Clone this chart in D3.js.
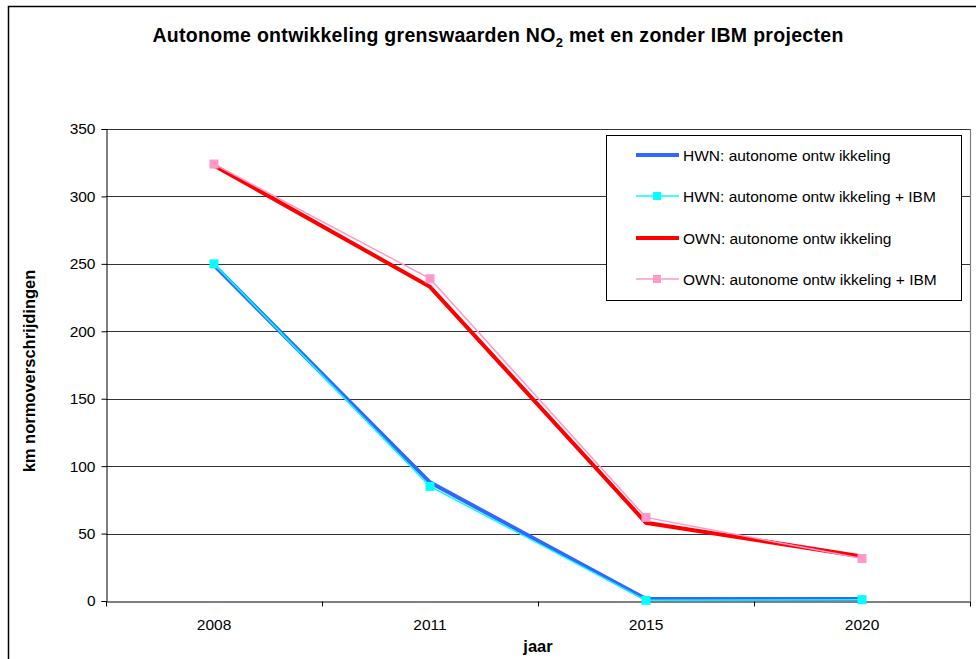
<!DOCTYPE html>
<html><head><meta charset="utf-8">
<script src="https://cdn.jsdelivr.net/npm/d3@7"></script>
<style>body{margin:0;background:#fff}svg{display:block;font-family:Arial,"Liberation Sans",sans-serif}</style>
</head><body><svg id="c" width="976" height="659"></svg>
<script>
const years = ["2008","2011","2015","2020"];
const hwn = [249, 88, 1.5, 1.5];
const hwnIbm = [250, 85, 0.5, 1];
const own = [323, 233, 58, 33];
const ownIbm = [324, 239, 62, 31.5];
const yTicks = [0,50,100,150,200,250,300,350];
const seriesNames = ["HWN: autonome ontw ikkeling","HWN: autonome ontw ikkeling + IBM","OWN: autonome ontw ikkeling","OWN: autonome ontw ikkeling + IBM"];

const series = [
  {name: seriesNames[0], values: hwn, color: "#3366ff", width: 4, marker: false},
  {name: seriesNames[1], values: hwnIbm, color: "#00ffff", width: 1.5, marker: true},
  {name: seriesNames[2], values: own, color: "#ff0000", width: 4, marker: false},
  {name: seriesNames[3], values: ownIbm, color: "#ff99cc", width: 1.5, marker: true}
];

const FF = "Arial, 'Liberation Sans', sans-serif";
const svg = d3.select("#c");
const L = 106, R = 970, T = 129, B = 601;
const x = d3.scaleBand().domain(years).range([L, R]);
const y = d3.scaleLinear().domain([0, 350]).range([B, T]);

// outer border
svg.append("rect").attr("x", 8.5).attr("y", 6.5).attr("width", 1200).attr("height", 1200)
  .attr("fill", "none").attr("stroke", "#000").attr("stroke-width", 1.5);

// title
const title = svg.append("text").attr("x", 498).attr("y", 42).attr("text-anchor", "middle")
  .attr("font-size", 19.5).attr("font-weight", "bold").attr("letter-spacing", 0.3);
title.append("tspan").text("Autonome ontwikkeling grenswaarden NO");
title.append("tspan").attr("font-size", 13).attr("dy", 5).text("2");
title.append("tspan").attr("dy", -5).text(" met en zonder IBM projecten");

// gridlines
svg.append("g").selectAll("line").data(yTicks.filter(d => d > 0)).join("line")
  .attr("x1", L).attr("x2", R).attr("y1", d => Math.round(y(d)) + 0.5).attr("y2", d => Math.round(y(d)) + 0.5)
  .attr("stroke", "#333").attr("stroke-width", 1);
// plot area right border
svg.append("line").attr("x1", R + 0.5).attr("x2", R + 0.5).attr("y1", T).attr("y2", B)
  .attr("stroke", "#808080").attr("stroke-width", 1.2);

// y axis
const ya = svg.append("g").attr("transform", `translate(${L + 0.5},0)`)
  .call(d3.axisLeft(y).tickValues(yTicks).tickSize(5).tickPadding(6));
ya.selectAll("text").attr("font-size", 15.5).attr("font-family", FF).attr("fill", "#000");
ya.selectAll("line").attr("stroke", "#000");
ya.select(".domain").attr("stroke", "#000");

// x axis
const xa = svg.append("g").attr("transform", `translate(0,${B + 0.5})`)
  .call(d3.axisBottom(x).tickSize(0).tickPadding(17));
xa.selectAll("text").attr("font-size", 15.5).attr("font-family", FF).attr("fill", "#000");
xa.select(".domain").attr("stroke", "#000");
const bounds = years.map(d => x(d)).concat([x(years[years.length - 1]) + x.bandwidth()]);
xa.selectAll(".sep").data(bounds).join("line").attr("class", "sep")
  .attr("x1", d => d + 0.5).attr("x2", d => d + 0.5).attr("y1", 0).attr("y2", 5).attr("stroke", "#000");

// axis labels
svg.append("text").attr("x", 538).attr("y", 652).attr("text-anchor", "middle")
  .attr("font-size", 16.5).attr("font-weight", "bold").text("jaar");
svg.append("text").attr("transform", "translate(35,371) rotate(-90)").attr("text-anchor", "middle")
  .attr("font-size", 16.5).attr("font-weight", "bold").text("km normoverschrijdingen");

// lines
const line = d3.line().x((d, i) => x(years[i]) + x.bandwidth() / 2).y(d => y(d));
series.forEach(s => {
  svg.append("path").datum(s.values).attr("d", line).attr("fill", "none")
    .attr("stroke", s.color).attr("stroke-width", s.width).attr("stroke-linejoin", "miter");
  if (s.marker) {
    svg.append("g").selectAll("rect").data(s.values).join("rect")
      .attr("x", (d, i) => x(years[i]) + x.bandwidth() / 2 - 4.5).attr("y", d => y(d) - 4.5)
      .attr("width", 9).attr("height", 9).attr("fill", s.color);
  }
});

// legend
const lg = svg.append("g");
lg.append("rect").attr("x", 606.5).attr("y", 135.5).attr("width", 355).attr("height", 165)
  .attr("fill", "#fff").attr("stroke", "#000").attr("stroke-width", 1);
const ly = [155, 196, 238, 279];
series.forEach((s, i) => {
  lg.append("line").attr("x1", 636).attr("x2", 679).attr("y1", ly[i]).attr("y2", ly[i])
    .attr("stroke", s.color).attr("stroke-width", s.width);
  if (s.marker) lg.append("rect").attr("x", 653).attr("y", ly[i] - 4).attr("width", 8).attr("height", 8).attr("fill", s.color);
  lg.append("text").attr("x", 683).attr("y", ly[i] + 6).attr("font-size", 15.5).text(s.name);
});
</script></body></html>
